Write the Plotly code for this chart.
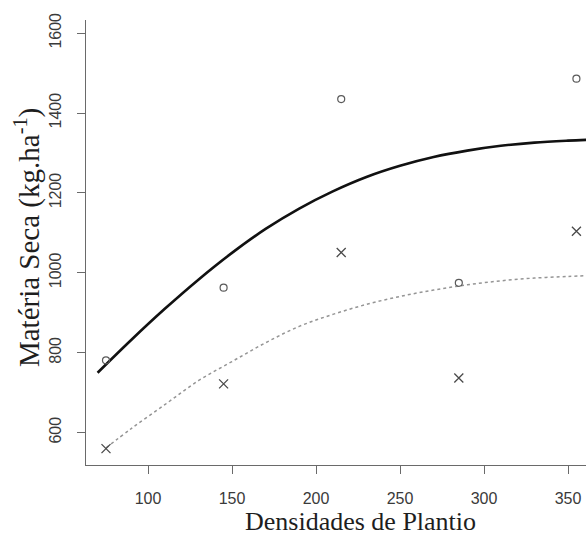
import plotly.graph_objects as go

# Planting densities and observed dry matter (kg/ha)
densidades = [75, 145, 215, 285, 355]
materia_circulos = [781, 963, 1435, 975, 1486]
materia_cruzes = [560, 722, 1051, 737, 1104]

# Fitted response curves, read along the density axis
curva_x = [70, 90, 110, 130, 150, 170, 190, 210, 230, 250, 270, 290, 310, 330, 350, 361]
curva_solida = [750, 832, 910, 983, 1050, 1110, 1161, 1204, 1240, 1268, 1290, 1306, 1318, 1326, 1331, 1333]
curva_pontilhada_x = [75, 90, 110, 130, 150, 170, 190, 210, 230, 250, 270, 290, 310, 330, 350, 361]
curva_pontilhada = [562, 610, 670, 730, 778, 825, 866, 896, 921, 941, 957, 970, 980, 987, 991, 993]

x_ticks = [100, 150, 200, 250, 300, 350]
y_ticks = [600, 800, 1000, 1200, 1400, 1600]

axis_grey = "#6a6a6a"
label_grey = "#3a3a3a"

fig = go.Figure()

fig.add_trace(go.Scatter(
    x=curva_x, y=curva_solida, mode="lines",
    line=dict(color="#111111", width=2.6, shape="spline"),
    showlegend=False, hoverinfo="skip",
))
fig.add_trace(go.Scatter(
    x=curva_pontilhada_x, y=curva_pontilhada, mode="lines",
    line=dict(color="#959595", width=1.5, dash="dot", shape="spline"),
    showlegend=False, hoverinfo="skip",
))
fig.add_trace(go.Scatter(
    x=densidades, y=materia_circulos, mode="markers",
    marker=dict(symbol="circle-open", size=7, color="#5a5a5a", line=dict(width=1.2)),
    showlegend=False,
))
fig.add_trace(go.Scatter(
    x=densidades, y=materia_cruzes, mode="markers",
    marker=dict(symbol="x-thin-open", size=9, color="#4a4a4a", line=dict(width=1.3, color="#4a4a4a")),
    showlegend=False,
))

fig.update_layout(
    width=586, height=538,
    margin=dict(l=86, r=0, t=20, b=73),
    paper_bgcolor="white", plot_bgcolor="white",
    xaxis=dict(
        range=[63.1, 360.7],
        tickvals=x_ticks,
        showgrid=False, zeroline=False,
        showline=True, linecolor=axis_grey, linewidth=1,
        ticks="outside", ticklen=8, tickcolor=axis_grey, tickwidth=1,
        ticklabelstandoff=11,
        tickfont=dict(family="Liberation Sans", size=16, color=label_grey),
    ),
    yaxis=dict(
        range=[519, 1633],
        tickvals=y_ticks,
        tickangle=-90,
        showgrid=False, zeroline=False,
        showline=True, linecolor=axis_grey, linewidth=1,
        ticks="outside", ticklen=8, tickcolor=axis_grey, tickwidth=1,
        ticklabelstandoff=10,
        tickfont=dict(family="Liberation Sans", size=16, color=label_grey),
    ),
    annotations=[
        dict(
            text="Densidades de Plantio",
            xref="paper", yref="paper", x=0.548, y=-0.128,
            xanchor="center", yanchor="middle", showarrow=False,
            font=dict(family="Liberation Serif", size=26, color="#1e1e1e"),
        ),
        dict(
            text="Matéria Seca (kg.ha<sup>-1</sup>)",
            xref="paper", yref="paper", x=-0.118, y=0.510,
            xanchor="center", yanchor="middle", showarrow=False,
            textangle=-90,
            font=dict(family="Liberation Serif", size=29, color="#1e1e1e"),
        ),
    ],
)

fig.write_html("out.html")
